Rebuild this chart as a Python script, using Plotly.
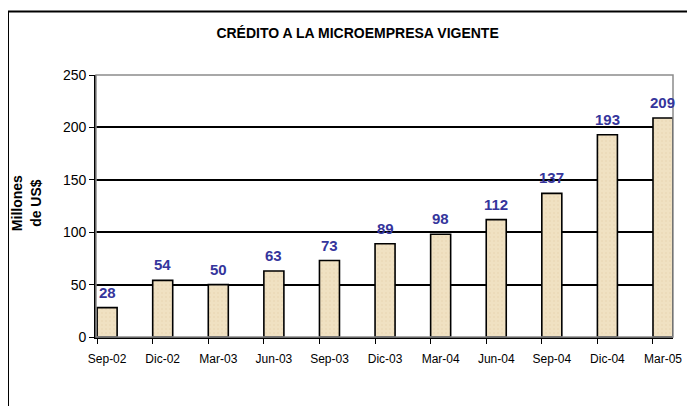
import plotly.graph_objects as go

# datos del gráfico
periodos = ["Sep-02", "Dic-02", "Mar-03", "Jun-03", "Sep-03", "Dic-03",
            "Mar-04", "Jun-04", "Sep-04", "Dic-04", "Mar-05"]
credito = [28, 54, 50, 63, 73, 89, 98, 112, 137, 193, 209]
y_ticks = [0, 50, 100, 150, 200, 250]

pos = list(range(len(periodos)))
FONT = "Liberation Sans, Arial, sans-serif"

fig = go.Figure()
fig.add_trace(
    go.Bar(
        x=pos,
        y=credito,
        width=0.36,
        marker=dict(
            color="#F0E1C2",
            line=dict(color="black", width=1.6),
            pattern=dict(shape=".", fgcolor="#E4D2AC", size=4, solidity=0.2),
        ),
        hoverinfo="skip",
        showlegend=False,
    )
)

# etiquetas de valor sobre cada barra
for xi, v in zip(pos, credito):
    fig.add_annotation(
        x=xi, y=v, text=str(v), showarrow=False, yanchor="bottom", yshift=5,
        font=dict(family=FONT, size=15, color="#35359C", weight="bold"),
    )

fig.add_annotation(
    text="Millones<br>de US$", xref="paper", yref="paper", x=-0.12, y=0.51,
    xanchor="center", yanchor="middle", textangle=-90, showarrow=False,
    font=dict(family=FONT, size=14, color="black", weight="bold"),
)

# borde gris del área de trazado y marco exterior
fig.add_shape(type="rect", xref="paper", yref="paper", x0=0, x1=1, y0=0, y1=1,
              line=dict(color="#8c8c8c", width=1.5), layer="above")
fig.add_shape(type="rect", xref="paper", yref="paper", x0=-0.1525, x1=1.2,
              y0=-0.4, y1=1.242, line=dict(color="black", width=2))

# la página añade 8 px de margen arriba y a la izquierda
fig.update_layout(
    width=695,
    height=406,
    paper_bgcolor="white",
    plot_bgcolor="white",
    margin=dict(l=88, r=30, t=67, b=77),
    font=dict(family=FONT, color="black"),
    title=dict(
        text="CRÉDITO A LA MICROEMPRESA VIGENTE",
        x=0.503, xanchor="center", y=0.937, yanchor="middle",
        font=dict(family=FONT, size=14, color="black", weight="bold"),
    ),
    xaxis=dict(
        range=[-0.2, 10.18],
        tickmode="array",
        tickvals=pos,
        ticktext=periodos,
        ticks="",
        ticklabelstandoff=10,
        tickfont=dict(size=12),
        showline=True,
        linecolor="black",
        linewidth=1.6,
        showgrid=False,
        zeroline=False,
        minor=dict(tickmode="linear", tick0=-0.18, dtick=1, ticks="outside",
                   ticklen=5, tickcolor="black", tickwidth=1.3, showgrid=False),
    ),
    yaxis=dict(
        range=[0, 250],
        tickmode="array",
        tickvals=y_ticks,
        ticks="outside",
        ticklen=5,
        tickcolor="black",
        tickfont=dict(size=14),
        showline=True,
        linecolor="black",
        linewidth=1.6,
        showgrid=True,
        gridcolor="black",
        gridwidth=1.5,
        zeroline=False,
    ),
)

fig.write_html("out.html")
